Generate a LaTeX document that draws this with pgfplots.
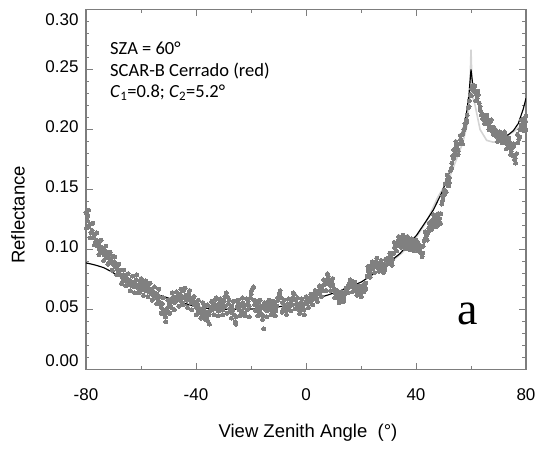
\documentclass[border=0pt]{standalone}
\usepackage{pgfplots}
\pgfplotsset{compat=1.18}
\usepackage{fontspec}
\setmainfont{Liberation Sans}
\newfontfamily\annfont{Carlito}
\newfontfamily\seriffont{Liberation Serif}
\definecolor{dotgray}{RGB}{128,128,128}
\definecolor{lightline}{RGB}{212,212,212}
\definecolor{axisgray}{RGB}{125,125,125}
\newcommand{\yl}[2]{\vphantom{0}\smash{\raisebox{#1}{#2}}}
\begin{document}
\begin{tikzpicture}[x=1pt,y=1pt]
\begin{axis}[
  at={(0,0)}, anchor=south west,
  scale only axis, width=440pt, height=360.5pt,
  xmin=-80, xmax=80, ymin=0, ymax=0.30,
  axis line style={axisgray, line width=1.1pt},
  every tick/.style={axisgray, line width=0.9pt},
  tick align=inside,
  major tick length=7pt, minor tick length=3.5pt,
  xtick={-80,-40,0,40,80},
  xticklabels={-80,-40,0,40,80},
  minor x tick num=1,
  ytick={0,0.05,0.10,0.15,0.20,0.25,0.30},
  yticklabels={\yl{9pt}{0.00},\yl{3pt}{0.05},\yl{3pt}{0.10},\yl{3pt}{0.15},\yl{3pt}{0.20},\yl{3pt}{0.25},\yl{-10pt}{0.30}},
  minor y tick num=4,
  tick label style={font=\fontsize{17}{19}\selectfont},
  xticklabel style={yshift=-15pt},
  yticklabel style={xshift=-4pt},
  /pgf/number format/assume math mode=true,
  clip=true,
]
\addplot[only marks, mark=*, mark size=2.0pt, color=dotgray, mark options={draw=dotgray, fill=dotgray, line width=0pt}] table[row sep=\\] {
x y\\
-80 0.131\\ -79.6 0.124\\ -79.3 0.128\\ -79 0.119\\ -78.6 0.121\\ -78.2 0.114\\ -77.8 0.116\\ -77.4 0.110\\ -77 0.112\\ -76.6 0.106\\
-76.2 0.108\\ -75.8 0.103\\ -75.4 0.105\\ -75 0.100\\ -74.6 0.102\\ -74.2 0.098\\ -73.8 0.101\\ -73.4 0.096\\ -73 0.099\\ -72.6 0.094\\
-72.2 0.097\\ -71.8 0.093\\ -71.4 0.090\\ -71 0.092\\ -70.6 0.095\\ -70.2 0.088\\ -69.8 0.090\\ -69.4 0.086\\ -69 0.088\\ -68.6 0.084\\
-68.2 0.082\\ -67.8 0.080\\ -67.4 0.083\\ -67 0.078\\ -66.6 0.076\\ -66.2 0.079\\ -65.8 0.074\\ -65.4 0.077\\ -65 0.073\\ -64.6 0.075\\
-64.2 0.071\\ -63.8 0.074\\ -63.4 0.070\\ -63 0.072\\ -62.6 0.069\\ -62.2 0.073\\ -61.8 0.075\\ -61.4 0.070\\ -61 0.068\\ -60.6 0.071\\
-60.2 0.074\\ -59.8 0.069\\ -59.4 0.067\\ -59 0.072\\ -58.6 0.070\\ -58.2 0.066\\ -57.8 0.068\\ -57.4 0.071\\ -57 0.065\\ -56.6 0.067\\
-56.2 0.063\\ -55.8 0.066\\ -55.4 0.062\\ -55 0.064\\ -54.6 0.060\\ -54.2 0.063\\ -53.8 0.058\\ -53.4 0.061\\ -53 0.056\\ -52.6 0.052\\
-52.2 0.055\\ -51.8 0.049\\ -51.4 0.046\\ -51 0.040\\ -50.6 0.051\\ -50.2 0.048\\ -49.8 0.054\\ -49.4 0.057\\ -49 0.052\\ -48.6 0.059\\
-48.2 0.061\\ -47.8 0.056\\ -47.4 0.060\\ -47 0.058\\ -46.6 0.062\\ -46.2 0.059\\ -45.8 0.063\\ -45.4 0.057\\ -45 0.061\\ -44.6 0.066\\
-44.2 0.060\\ -43.8 0.062\\ -43.4 0.058\\ -43 0.061\\ -42.6 0.063\\ -42.2 0.059\\ -41.8 0.056\\ -41.4 0.060\\ -41 0.057\\ -40.6 0.054\\
-40.2 0.056\\ -39.8 0.052\\ -39.4 0.054\\ -39 0.049\\ -38.6 0.051\\ -38.2 0.047\\ -37.8 0.050\\ -37.4 0.046\\ -37 0.052\\ -36.6 0.048\\
-36.2 0.044\\ -35.8 0.041\\ -35.4 0.046\\ -35 0.049\\ -34.6 0.052\\ -34.2 0.050\\ -33.8 0.055\\ -33.4 0.053\\ -33 0.058\\ -32.6 0.051\\
-32.2 0.054\\ -31.8 0.049\\ -31.4 0.056\\ -31 0.052\\ -30.6 0.054\\ -30.2 0.050\\ -29.8 0.057\\ -29.4 0.053\\ -29 0.064\\ -28.6 0.061\\
-28.2 0.055\\ -27.8 0.051\\ -27.4 0.048\\ -27 0.053\\ -26.6 0.050\\ -26.2 0.046\\ -25.8 0.040\\ -25.4 0.044\\ -25 0.052\\ -24.6 0.055\\
-24.2 0.050\\ -23.8 0.053\\ -23.4 0.048\\ -23 0.056\\ -22.6 0.052\\ -22.2 0.045\\ -21.8 0.054\\ -21.4 0.050\\ -21 0.057\\ -20.6 0.053\\
-20.2 0.060\\ -19.8 0.066\\ -19.4 0.068\\ -19 0.058\\ -18.6 0.054\\ -18.2 0.049\\ -17.8 0.052\\ -17.4 0.055\\ -17 0.050\\ -16.6 0.047\\
-16.2 0.053\\ -15.8 0.042\\ -15.4 0.034\\ -15 0.051\\ -14.6 0.054\\ -14.2 0.049\\ -13.8 0.056\\ -13.4 0.052\\ -13 0.050\\ -12.6 0.054\\
-12.2 0.048\\ -11.8 0.051\\ -11.4 0.055\\ -11 0.049\\ -10.6 0.053\\ -10.2 0.058\\ -9.8 0.062\\ -9.4 0.066\\ -9 0.060\\ -8.6 0.056\\
-8.2 0.051\\ -7.8 0.053\\ -7.4 0.049\\ -7 0.052\\ -6.6 0.055\\ -6.2 0.050\\ -5.8 0.053\\ -5.4 0.057\\ -5 0.054\\ -4.6 0.060\\
-4.2 0.063\\ -3.8 0.058\\ -3.4 0.055\\ -3 0.052\\ -2.6 0.050\\ -2.2 0.054\\ -1.8 0.056\\ -1.4 0.053\\ -1 0.051\\ -0.6 0.046\\
-0.2 0.055\\ 0.2 0.058\\ 0.6 0.056\\ 1 0.059\\ 1.4 0.057\\ 1.8 0.060\\ 2.2 0.058\\ 2.6 0.061\\ 3 0.059\\ 3.4 0.062\\
3.8 0.060\\ 4.2 0.064\\ 4.6 0.066\\ 5 0.063\\ 5.4 0.067\\ 5.8 0.069\\ 6.2 0.066\\ 6.6 0.071\\ 7 0.074\\ 7.4 0.072\\
7.8 0.080\\ 8.2 0.076\\ 8.6 0.073\\ 9 0.070\\ 9.4 0.074\\ 9.8 0.071\\ 10.2 0.067\\ 10.6 0.064\\ 11 0.062\\ 11.4 0.060\\
11.8 0.063\\ 12.2 0.059\\ 12.6 0.061\\ 13 0.058\\ 13.4 0.062\\ 13.8 0.060\\ 14.2 0.063\\ 14.6 0.065\\ 15 0.067\\ 15.4 0.070\\
15.8 0.072\\ 16.2 0.069\\ 16.6 0.074\\ 17 0.071\\ 17.4 0.068\\ 17.8 0.070\\ 18.2 0.066\\ 18.6 0.068\\ 19 0.064\\ 19.4 0.067\\
19.8 0.063\\ 20.2 0.066\\ 20.6 0.069\\ 21 0.065\\ 21.4 0.068\\ 21.8 0.072\\ 22.2 0.078\\ 22.6 0.082\\ 23 0.085\\ 23.4 0.081\\
23.8 0.087\\ 24.2 0.084\\ 24.6 0.089\\ 25 0.086\\ 25.4 0.090\\ 25.8 0.088\\ 26.2 0.085\\ 26.6 0.089\\ 27 0.087\\ 27.4 0.084\\
27.8 0.088\\ 28.2 0.086\\ 28.6 0.083\\ 29 0.087\\ 29.4 0.090\\ 29.8 0.093\\ 30.2 0.091\\ 30.6 0.094\\ 31 0.089\\ 31.4 0.092\\
31.8 0.097\\ 32.2 0.102\\ 32.6 0.105\\ 33 0.103\\ 33.4 0.107\\ 33.8 0.104\\ 34.2 0.109\\ 34.6 0.106\\ 35 0.108\\ 35.4 0.104\\
35.8 0.107\\ 36.2 0.110\\ 36.6 0.105\\ 37 0.108\\ 37.4 0.103\\ 37.8 0.106\\ 38.2 0.101\\ 38.6 0.104\\ 39 0.107\\ 39.4 0.103\\
39.8 0.105\\ 40.2 0.102\\ 40.6 0.106\\ 41 0.104\\ 41.4 0.101\\ 41.8 0.097\\ 42.2 0.094\\ 42.6 0.103\\ 43 0.107\\ 43.4 0.109\\
43.8 0.112\\ 44.2 0.114\\ 44.6 0.118\\ 45 0.116\\ 45.4 0.121\\ 45.8 0.124\\ 46.2 0.120\\ 46.6 0.126\\ 47 0.123\\ 47.4 0.128\\
47.8 0.125\\ 48.2 0.121\\ 48.6 0.126\\ 49 0.130\\ 49.4 0.138\\ 49.8 0.145\\ 50.2 0.150\\ 50.6 0.155\\ 51 0.148\\ 51.4 0.158\\
51.8 0.153\\ 52.2 0.160\\ 52.6 0.166\\ 53 0.172\\ 53.4 0.178\\ 53.8 0.183\\ 54.2 0.180\\ 54.6 0.186\\ 55 0.184\\ 55.4 0.182\\
55.8 0.188\\ 56.2 0.192\\ 56.6 0.190\\ 57 0.196\\ 57.4 0.200\\ 57.8 0.205\\ 58.2 0.208\\ 58.6 0.212\\ 59 0.218\\ 59.4 0.224\\
59.8 0.229\\ 60.2 0.234\\ 60.6 0.236\\ 61 0.232\\ 61.4 0.236\\ 61.8 0.230\\ 62.2 0.226\\ 62.6 0.229\\ 63 0.222\\ 63.4 0.216\\
63.8 0.212\\ 64.2 0.209\\ 64.6 0.211\\ 65 0.207\\ 65.4 0.210\\ 65.8 0.205\\ 66.2 0.208\\ 66.6 0.203\\ 67 0.206\\ 67.4 0.201\\
67.8 0.199\\ 68.2 0.202\\ 68.6 0.197\\ 69 0.195\\ 69.4 0.198\\ 69.8 0.193\\ 70.2 0.196\\ 70.6 0.192\\ 71 0.195\\ 71.4 0.190\\
71.8 0.194\\ 72.2 0.198\\ 72.6 0.192\\ 73 0.188\\ 73.4 0.191\\ 73.8 0.186\\ 74.2 0.189\\ 74.6 0.182\\ 75 0.185\\ 75.4 0.178\\
75.8 0.175\\ 76.2 0.172\\ 75.6 0.186\\ 76.6 0.180\\ 77 0.189\\ 77.4 0.192\\ 77.8 0.200\\ 78.2 0.204\\ 78.6 0.202\\ 79 0.206\\
79.4 0.203\\ 79.8 0.207\\ 80 0.200\\
-79.8 0.118\\ -79.1 0.133\\ -78.4 0.110\\ -77.6 0.122\\ -76.9 0.104\\ -76.1 0.114\\ -75.3 0.096\\ -74.5 0.108\\ -73.6 0.091\\ -72.8 0.103\\
-72.0 0.088\\ -71.2 0.098\\ -70.4 0.083\\ -69.6 0.094\\ -68.8 0.079\\ -68.0 0.088\\ -67.1 0.072\\ -66.3 0.083\\ -65.5 0.070\\ -64.7 0.080\\
-63.9 0.066\\ -63.1 0.078\\ -62.3 0.064\\ -61.5 0.079\\ -60.7 0.064\\ -59.9 0.076\\ -59.1 0.062\\ -58.3 0.074\\ -57.5 0.061\\ -56.7 0.072\\
-55.9 0.058\\ -55.1 0.069\\ -54.3 0.055\\ -53.5 0.067\\ -52.7 0.047\\ -51.9 0.060\\ -51.1 0.044\\ -50.3 0.058\\ -49.5 0.047\\ -48.7 0.064\\
-47.9 0.050\\ -47.1 0.065\\ -46.3 0.053\\ -45.5 0.067\\ -44.7 0.054\\ -43.9 0.068\\ -43.1 0.052\\ -42.3 0.066\\ -41.5 0.050\\ -40.7 0.061\\
-39.9 0.046\\ -39.1 0.058\\ -38.3 0.043\\ -37.5 0.056\\ -36.7 0.042\\ -35.9 0.054\\ -35.1 0.038\\ -34.3 0.057\\ -33.5 0.046\\ -32.7 0.060\\
-31.9 0.045\\ -31.1 0.059\\ -30.3 0.046\\ -29.5 0.061\\ -28.7 0.047\\ -27.9 0.058\\ -27.1 0.043\\ -26.3 0.057\\ -25.5 0.038\\ -24.7 0.058\\
-23.9 0.045\\ -23.1 0.060\\ -22.3 0.047\\ -21.5 0.059\\ -20.7 0.044\\ -19.9 0.063\\ -19.1 0.069\\ -18.3 0.057\\ -17.5 0.045\\ -16.7 0.058\\
-15.9 0.046\\ -15.1 0.056\\ -14.3 0.044\\ -13.5 0.058\\ -12.7 0.046\\ -11.9 0.057\\ -11.1 0.045\\ -10.3 0.060\\ -9.5 0.064\\ -8.7 0.048\\
-7.9 0.058\\ -7.1 0.046\\ -6.3 0.059\\ -5.5 0.049\\ -4.7 0.064\\ -3.9 0.051\\ -3.1 0.060\\ -2.3 0.047\\ -1.5 0.059\\ -0.7 0.050\\
0.1 0.061\\ 0.9 0.052\\ 1.7 0.063\\ 2.5 0.054\\ 3.3 0.066\\ 4.1 0.057\\ 4.9 0.070\\ 5.7 0.061\\ 6.5 0.075\\ 7.3 0.066\\
8.1 0.078\\ 8.9 0.066\\ 9.7 0.076\\ 10.5 0.060\\ 11.3 0.066\\ 12.1 0.056\\ 12.9 0.065\\ 13.7 0.057\\ 14.5 0.068\\ 15.3 0.064\\
16.1 0.075\\ 16.9 0.065\\ 17.7 0.073\\ 18.5 0.062\\ 19.3 0.070\\ 20.1 0.061\\ 20.9 0.071\\ 21.7 0.067\\ 22.5 0.086\\ 23.3 0.077\\
24.1 0.090\\ 24.9 0.081\\ 25.7 0.093\\ 26.5 0.082\\ 27.3 0.091\\ 28.1 0.081\\ 28.9 0.092\\ 29.7 0.088\\ 30.5 0.097\\ 31.3 0.087\\
32.1 0.106\\ 32.9 0.099\\ 33.7 0.111\\ 34.5 0.102\\ 35.3 0.112\\ 36.1 0.101\\ 36.9 0.111\\ 37.7 0.100\\ 38.5 0.109\\ 39.3 0.099\\
40.1 0.108\\ 40.9 0.099\\ 41.7 0.103\\ 42.5 0.097\\ 43.3 0.115\\ 44.1 0.108\\ 44.9 0.122\\ 45.7 0.117\\ 46.5 0.129\\ 47.3 0.119\\
48.1 0.130\\ 48.9 0.122\\ 49.7 0.141\\ 50.5 0.146\\ 51.3 0.162\\ 52.1 0.156\\ 52.9 0.168\\ 53.7 0.176\\ 54.5 0.190\\ 55.3 0.179\\
56.1 0.195\\ 56.9 0.188\\ 57.7 0.201\\ 58.5 0.206\\ 59.3 0.219\\ 60.1 0.228\\ 60.9 0.237\\ 61.7 0.224\\ 62.5 0.232\\ 63.3 0.219\\
64.1 0.213\\ 64.9 0.205\\ 65.7 0.212\\ 66.5 0.200\\ 67.3 0.208\\ 68.1 0.196\\ 68.9 0.200\\ 69.7 0.190\\ 70.5 0.198\\ 71.3 0.189\\
72.1 0.195\\ 72.9 0.184\\ 73.7 0.193\\ 74.5 0.179\\ 75.3 0.188\\ 76.1 0.176\\ 76.9 0.196\\ 77.7 0.194\\ 78.5 0.208\\ 79.3 0.199\\
79.9 0.211\\
};
\addplot[color=lightline, line width=1.6pt] table[row sep=\\] {
x y\\
30 0.0880\\ 35 0.0975\\ 40 0.1100\\ 44 0.1240\\ 48 0.1440\\ 52 0.1590\\ 55 0.1770\\ 57 0.1890\\ 58.5 0.2030\\ 59.5 0.2250\\
60 0.2665\\ 60.5 0.2280\\ 61.5 0.2200\\ 63.3 0.2000\\ 65.7 0.1910\\ 68 0.1895\\ 70.5 0.1900\\ 73 0.1945\\ 76 0.1990\\ 78 0.2030\\ 80 0.2080\\
};
\addplot[color=black, line width=1.15pt] table[row sep=\\] {
x y\\
-80 0.0890\\ -78 0.0880\\ -76 0.0868\\ -73.5 0.0850\\ -71 0.0820\\ -68.6 0.0787\\ -65.5 0.0752\\ -62.5 0.0718\\ -59.5 0.0683\\ -56.5 0.0648\\
-53.5 0.0622\\ -50.4 0.0600\\ -47.4 0.0578\\ -44.4 0.0556\\ -40.7 0.0529\\ -37.8 0.0517\\ -34.9 0.0510\\ -30 0.0505\\ -24 0.0503\\ -18 0.0508\\
-11.9 0.0518\\ -6 0.0538\\ -2.2 0.0552\\ 2 0.0580\\ 8.1 0.0624\\ 14 0.0670\\ 20.2 0.0732\\ 26 0.0820\\ 30 0.0885\\ 32.4 0.0935\\
34.2 0.0968\\ 36 0.1015\\ 38 0.1065\\ 40.2 0.1120\\ 43 0.1215\\ 46.3 0.1330\\ 49.5 0.1480\\ 52.4 0.1660\\ 54.5 0.1800\\ 56 0.1910\\
57.3 0.2020\\ 58.4 0.2140\\ 59.3 0.2300\\ 60 0.2500\\ 60.7 0.2360\\ 62 0.2280\\ 63.2 0.2190\\ 64.5 0.2125\\ 66.2 0.2055\\ 68.1 0.1998\\
70 0.1965\\ 71.7 0.1950\\ 73.5 0.1955\\ 75.4 0.1990\\ 77.2 0.2050\\ 79 0.2170\\ 80 0.2260\\
};
\end{axis}
\node[anchor=west, font=\annfont\fontsize{18.5}{20}\selectfont, inner sep=0pt] at (24,322) {SZA = 60°};
\node[anchor=west, font=\annfont\fontsize{18.5}{20}\selectfont, inner sep=0pt] at (24,299) {SCAR-B Cerrado (red)};
\node[anchor=west, font=\annfont\fontsize{18.5}{20}\selectfont, inner sep=0pt] at (24,277) {\textit{C}\textsubscript{1}=0.8; \textit{C}\textsubscript{2}=5.2°};
\node[font=\seriffont\fontsize{46}{50}\selectfont, inner sep=0pt] at (382,56) {a};
\node[font=\fontsize{18.5}{20}\selectfont, inner sep=0pt] at (222,-63) {View Zenith Angle\ \ (°)};
\node[rotate=90, font=\fontsize{18.5}{20}\selectfont, inner sep=0pt] at (-68,155) {Reflectance};
\path (-86,-80) rectangle (453,367);
\end{tikzpicture}
\end{document}
